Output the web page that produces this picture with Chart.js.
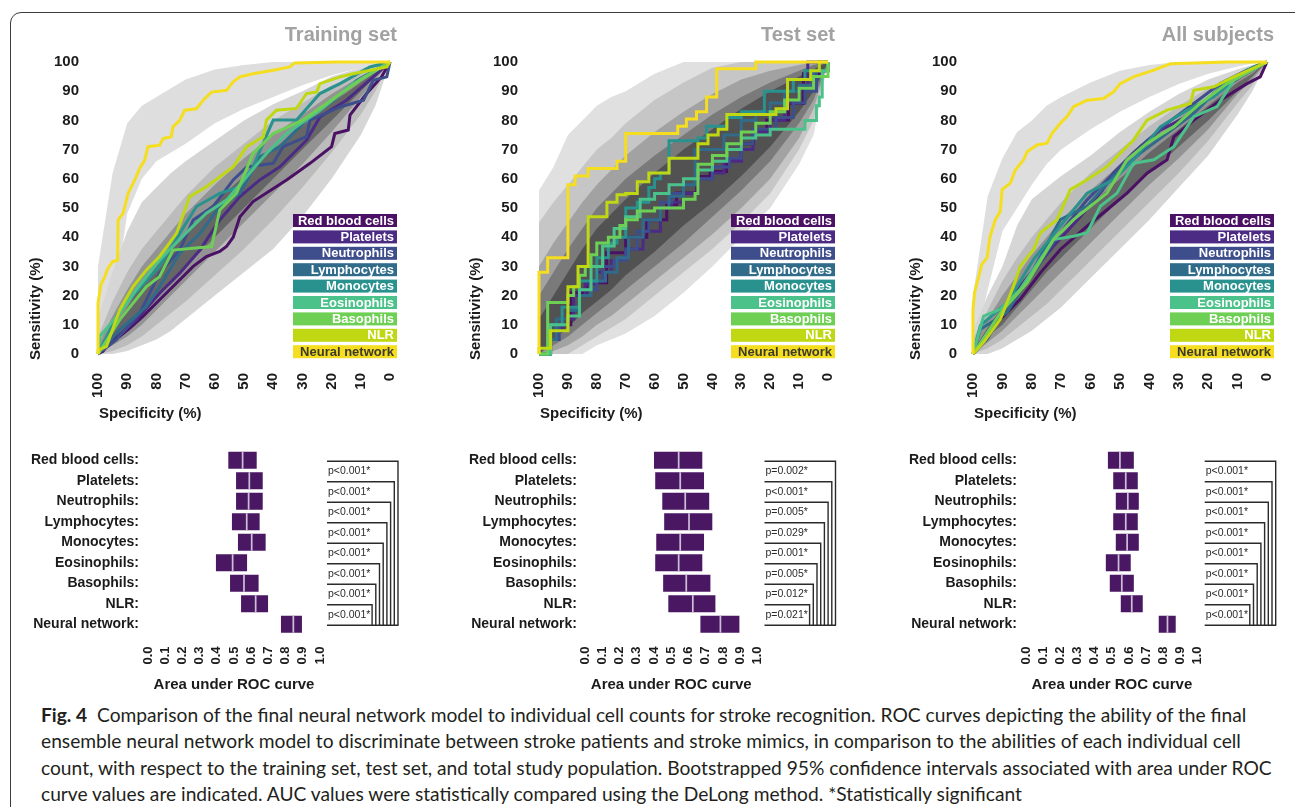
<!DOCTYPE html>
<html>
<head>
<meta charset="utf-8">
<script src="https://cdn.jsdelivr.net/npm/chart.js@4.4.3/dist/chart.umd.min.js"></script>
<style>
  html, body { margin: 0; padding: 0; background: #fff; }
  body { position: relative; width: 1295px; height: 807px; overflow: hidden; }
  .frame { position: absolute; left: 10px; top: 12px; width: 1320px; height: 830px; border: 1.5px solid #3c3c3c; border-radius: 11px; }
  canvas { position: absolute; }
  .caption { position: absolute; left: 41px; top: 702px; font-family: Lato, sans-serif; font-size: 19.2px; line-height: 26.3px; color: #231f20; white-space: nowrap; }
</style>
</head>
<body>
<div class="frame"></div>
<canvas id="rocTrain" width="380" height="403" style="left:20px;top:20px"></canvas>
<canvas id="rocTest" width="378" height="403" style="left:460px;top:20px"></canvas>
<canvas id="rocAll" width="377" height="403" style="left:900px;top:20px"></canvas>
<canvas id="aucTrain" width="385" height="254" style="left:20px;top:440px"></canvas>
<canvas id="aucTest" width="385" height="254" style="left:460px;top:440px"></canvas>
<canvas id="aucAll" width="385" height="254" style="left:900px;top:440px"></canvas>
<div class="caption"><b>Fig. 4</b>&nbsp; Comparison of the final neural network model to individual cell counts for stroke recognition. ROC curves depicting the ability of the final<br>ensemble neural network model to discriminate between stroke patients and stroke mimics, in comparison to the abilities of each individual cell<br>count, with respect to the training set, test set, and total study population. Bootstrapped 95% confidence intervals associated with area under ROC<br>curve values are indicated. AUC values were statistically compared using the DeLong method. *Statistically significant</div>

<script>
// series names and colours (viridis-like)
const categories = ['Red blood cells', 'Platelets', 'Neutrophils', 'Lymphocytes', 'Monocytes', 'Eosinophils', 'Basophils', 'NLR', 'Neural network'];
const seriesColors = ['#4a1164', '#4b2b84', '#3e4d8b', '#306b8a', '#29928e', '#4cc28b', '#6ecf55', '#c0d814', '#f5dd1f'];

// ROC curves: [specificity, sensitivity]
const trainRBC = [[100,0],[98.3,0.9],[94.9,5.5],[92.6,6],[89.1,8.9],[84.6,12.9],[78.9,18.6],[73.1,24.3],[67.4,30],[62.9,33.4],[58.3,35.1],[56,36.8],[53.7,40],[51.4,47],[46.9,52.2],[35.4,59.6],[27.4,65.3],[20,71],[18.9,75.5],[14.3,76.7],[13.7,81.8],[8,89.2],[2.9,94.9],[0,100]];
const trainPLT = [[100,0],[97,2.6],[86.9,11.7],[78.9,20.8],[72,27.7],[65.1,35.6],[58.3,45.9],[51.4,53.9],[44.6,59.6],[37.7,64.1],[28.6,73.2],[24,81.2],[14.9,86.9],[5.7,94.9],[0,100]];
const trainNEU = [[100,0],[93.7,4.9],[85.7,14],[78.9,27.7],[72,35.6],[67.4,45.9],[60.6,50.5],[53.7,59.6],[49.1,64],[40,65.3],[36.6,71],[28.6,74.4],[27.4,80.1],[17.1,84.6],[9.1,86.9],[5.7,93.7],[1.1,94.9],[0,100]];
const trainLYM = [[100,0],[92.6,8.3],[83.4,16.3],[78.9,23.1],[72,34.5],[65.1,41.3],[58.3,50.5],[51.4,55],[44.6,67.5],[37.7,71],[28.6,80.1],[19.4,86.9],[11.4,93.7],[0,100]];
const trainMON = [[100,0],[96,8],[92.6,15],[78.9,30],[72,41.3],[66.3,50.5],[58.3,55],[51.4,57.3],[46.9,64.1],[40,80.1],[32,80.1],[24,89.2],[17.1,92.6],[6.9,98.3],[0,100]];
const trainEOS = [[100,0],[99.4,6],[92.6,14],[86.9,22],[78.9,32.2],[70,41.3],[62.9,48.2],[56,52.7],[49.1,60.7],[42.3,68.7],[35.4,75.5],[24,83.5],[12.6,92.6],[0,100]];
const trainBAS = [[100,0],[92.6,11.7],[83.4,23.1],[78.9,26.5],[74.3,35.6],[61.1,36.8],[58.3,49.3],[52.6,55],[46.9,68.7],[40,75.5],[30,80],[20,87],[10,94],[0,100]];
const trainNLR = [[100,0],[99.4,1.5],[97.1,2.6],[92.6,15.1],[88,23.1],[83.4,28.8],[78.9,33.4],[73.1,41.3],[68.6,53.9],[62.9,57.3],[58.3,60.7],[53.7,64.1],[49.1,71],[43.4,74.4],[42.3,80.1],[38.9,83.5],[32,84.1],[28.6,89.2],[25.1,89.7],[24,92.6],[17.1,94.9],[12.6,96],[1.1,98.3],[0,100]];
const trainNN = [[100,0],[100,17.4],[99,23.7],[97.7,26.5],[96.6,29.4],[94.9,31.7],[93.3,32],[93.1,45.9],[91.4,48.2],[89.7,55],[87.4,59.6],[85.7,63.6],[84,66.4],[82.9,71],[78.9,71.5],[77.7,73.8],[74.9,74.4],[74.3,77.8],[72,80],[70.3,83.5],[66.3,84],[64,86.9],[61.1,89.7],[56,90.3],[53.7,93.2],[51.4,94.9],[46.9,96],[40,97.2],[34.3,98.3],[32.6,99.7],[18.3,100],[0,100]];

const testRBC = [[100,0],[96,10],[89,21],[83.5,24.4],[76.6,34.7],[70,40],[62.7,46],[55.8,51.1],[52.4,55.1],[45.4,60.8],[40.8,62.5],[35.1,66.5],[30,72],[25.8,76.7],[21.2,80.1],[14,80.1],[13.7,85.8],[8.5,96],[3,100],[0,100]];
const testPLT = [[100,0],[97,8],[92,12],[88,20],[84,24],[80,28],[75,32],[70,36],[64,42],[58,50],[54,52],[50,55],[45,60],[40,62],[36,66],[30,70],[26,76],[20,80],[15,86],[10,92],[7,100],[0,100]];
const testNEU = [[100,0],[96,5],[93,10],[90,15],[86,22],[80,25],[78,30],[74,32],[70,36],[66,42],[62,46],[58,52],[54,55],[50,58],[45,60],[40,64],[34,67],[30,72],[26,77],[18,81],[12,86],[8,90],[4,97],[0,100]];
const testLYM = [[100,0],[97,5],[94,12],[90,15],[86,20],[82,25],[77,28],[73,33],[69,40],[64,46],[58,50],[55,54],[50,58],[46,70],[40,70],[36,75],[30,80],[25,83],[20,86],[15,90],[10,92],[5,97],[0,100]];
const testMON = [[100,0],[96,10],[92,16],[86,25],[80,33],[76,38],[73,40],[70,50],[66,52],[62,57],[60,60],[58,62],[55,73],[45,74],[42,78],[35,81],[30,83],[22,90],[15,90],[12,94],[8,97],[3,100],[0,100]];
const testEOS = [[100,0],[96,10],[90,13],[86,22],[82,30],[78,37],[74,43],[70,47],[65,53],[60,55],[55,58],[50,60],[45,63],[40,66],[35,70],[30,74],[25,75],[20,77],[13,77],[8,80],[4,85],[3,88],[2,97],[0,100]];
const testBAS = [[100,0],[97,17.6],[90,20],[88,23],[86,27],[84,30],[82,34],[80,38],[76,40],[72,44],[70,46],[66,49],[60,50],[52,50],[50,53],[46,55],[45,65],[40,68],[35,72],[30,76],[25,79],[20,83],[15,87],[10,91],[5,95],[0,100]];
const testNLR = [[100,0],[100,2],[96,8],[90,23],[86.5,30],[83,47],[76.5,52],[73,54.5],[70,55],[66,59],[62,62],[55,67],[45,72],[41.5,75],[38,77],[35,82],[18,84],[14,94],[6,97],[3,100],[0,100]];
const testNN = [[100,0],[100,28],[97,33],[90,58],[87.5,61],[83,63.5],[73,66],[70,75.5],[52,78],[49,80.5],[45.5,83],[42,88],[38.5,97.7],[25,100],[0,100]];

const allRBC = [[100,0],[90.7,11.9],[83.9,18.8],[77.1,27.8],[70.3,35.8],[61.2,43.8],[54.4,49.4],[47.6,55.1],[40.8,61.9],[34,66.5],[31.7,74.4],[24.9,80.1],[15.9,86.9],[6.8,92.6],[2.3,94.9],[0,100]];
const allPLT = [[100,0],[90.7,14],[81.6,26],[72.6,37],[63.5,47],[56,56],[52.2,62],[45.4,69],[36.3,76.7],[27.2,81.3],[18.1,89.2],[9.1,94.9],[0,100]];
const allNEU = [[100,0],[95.2,5.1],[88.4,16.5],[79.4,27.8],[70.3,41.5],[61.2,52.8],[52.2,61.9],[43.1,71],[34,79],[24.9,85.8],[15.9,92.6],[6.8,97.2],[0,100]];
const allLYM = [[100,0],[97.5,8.5],[88.4,14.2],[79.4,29],[70.3,46],[61.2,50.6],[52.2,60.8],[43.1,68.8],[34,75.6],[24.9,82.4],[15.9,91.5],[4.5,98.3],[0,100]];
const allMON = [[100,0],[97.5,9.7],[88.4,17.6],[79.4,32.4],[70.3,43.8],[61.2,55.1],[52.2,59.7],[45.4,66.5],[36.3,77.8],[27.2,83.5],[18.1,88.1],[6.8,97.2],[0,100]];
const allEOS = [[100,0],[96.4,13],[90.7,15.3],[83.9,22.2],[77.1,32.4],[72.6,39.2],[65.8,40.3],[61.2,41.5],[56.7,50.6],[51,55.1],[45.4,65.3],[38.5,66.5],[31.7,71],[24.9,81.3],[17,84.7],[11.3,93.8],[0,100]];
const allBAS = [[100,0],[90.7,14],[81.6,24.4],[72.6,39.2],[65.8,46],[60.1,50.6],[54.4,55.1],[47.6,66.5],[40.8,72.2],[31.7,77.8],[22.7,85.8],[13.6,92.6],[0,100]];
const allNLR = [[100,0],[96.4,4],[90.7,11.9],[86.2,23.3],[83.9,30.1],[79.4,35.8],[77.1,41.5],[71.4,46],[66.9,56.3],[61.2,59.7],[54.4,64.2],[49.9,68.8],[45.4,73.3],[40.8,80.1],[34,83.5],[26.1,85.8],[24.9,90.3],[18.1,91.5],[11.3,94.9],[0,100]];
const allNN = [[100,0],[100,15.3],[99.5,21],[98,26.7],[97,30.7],[95.2,33],[94.3,39.8],[92.4,46],[90.7,48.9],[90.1,56.3],[87.3,58.5],[85.6,63],[82.8,66.5],[81.6,69.3],[78.2,71.6],[74.8,72.2],[73.1,75.6],[70.3,79],[68,81.3],[65.8,84.7],[61.2,86.9],[55.6,87.5],[52.2,89.8],[49.9,92.6],[45.4,94.9],[38.5,97.2],[32.9,99.4],[13.6,100],[0,100]];

// confidence bands, sensitivity at these specificities
const bandSpec = [100, 95, 90, 85, 80, 75, 70, 60, 50, 40, 30, 20, 10, 5, 0];
const trainNnHi    = [30, 62, 79, 85, 88, 91, 94, 97.4, 99, 100, 100, 100, 100, 100, 100];
const trainNnLo    = [0, 14, 48, 60, 66, 69, 72, 79, 84, 88, 92, 95.5, 98, 99, 100];
const trainOuterHi = [12, 28, 42, 52, 57, 62, 66, 73, 80, 85.5, 90, 95, 98, 99, 100];
const trainOuterLo = [0, 0, 1, 3, 5, 8, 12, 20, 28, 36, 47, 60, 75, 85, 100];
const trainMidHi   = [6, 18, 28, 36, 42, 48, 54, 64, 72, 80, 86, 92, 96, 98, 100];
const trainMidLo   = [0, 1, 3, 6, 10, 14, 18, 27, 36, 46, 57, 69, 82, 90, 100];
const trainInnerHi = [3, 13, 22, 30, 36, 42, 48, 58, 67, 75, 82, 89, 95, 97.5, 100];
const trainInnerLo = [0, 3, 6, 10, 15, 20, 25, 35, 45, 55, 65, 76, 88, 94, 100];
const trainCoreHi  = [1, 9, 16, 24, 30, 36, 42, 52, 61, 70, 78, 86, 93, 96.5, 100];
const trainCoreLo  = [0, 5, 9, 14, 20, 25, 30, 40, 50, 60, 70, 80, 90, 95, 100];

const testL1Hi = [56, 64, 75, 80, 85, 88, 90, 96, 100, 100, 100, 100, 100, 100, 100];
const testL1Lo = [0, 0, 0, 0, 3, 5, 7, 13, 21, 30, 40, 50, 65, 75, 100];
const testL2Hi = [45, 52, 58, 64, 70, 74, 79, 87, 93, 98, 100, 100, 100, 100, 100];
const testL2Lo = [0, 0, 0, 3, 6, 9, 12, 20, 28, 36, 45, 55, 70, 80, 100];
const testL3Hi = [30, 38, 45, 52, 58, 63, 68, 76, 83, 89, 94, 97, 99, 100, 100];
const testL3Lo = [0, 1, 3, 6, 10, 13, 17, 25, 33, 41, 50, 60, 74, 84, 100];
const testL4Hi = [20, 28, 36, 43, 50, 55, 60, 68, 75, 82, 88, 93, 97, 99, 100];
const testL4Lo = [0, 3, 6, 10, 14, 18, 22, 30, 38, 47, 56, 66, 79, 87, 100];
const testL5Hi = [12, 20, 28, 36, 43, 48, 53, 62, 70, 77, 84, 90, 95, 97.5, 100];
const testL5Lo = [0, 5, 9, 14, 18, 22, 27, 35, 44, 52, 61, 71, 83, 90, 100];

const allNnHi    = [20, 54, 67, 76, 80, 85, 88, 93, 97, 99, 100, 100, 100, 100, 100];
const allNnLo    = [0, 22, 42, 50, 58, 65, 70, 77, 83, 88, 92.5, 96, 98.5, 99.5, 100];
const allOuterHi = [8, 20, 30, 44, 53, 57, 61, 68, 76, 83, 89, 94, 97.5, 99, 100];
const allOuterLo = [0, 0, 2, 5, 8, 12, 16, 26, 36, 46, 57, 68, 82, 90, 100];
const allMidHi   = [5, 15, 25, 33, 40, 46, 52, 62, 70, 78, 85, 91, 96, 98, 100];
const allMidLo   = [0, 2, 5, 9, 13, 17, 22, 32, 42, 52, 62, 73, 86, 92, 100];
const allInnerHi = [3, 12, 20, 27, 34, 40, 46, 56, 65, 73, 81, 88, 94, 97, 100];
const allInnerLo = [0, 4, 8, 13, 18, 23, 28, 38, 48, 58, 67, 77, 89, 94, 100];
const allCoreHi  = [1, 9, 16, 23, 29, 35, 41, 51, 60, 69, 77, 85, 93, 96, 100];
const allCoreLo  = [0, 6, 10, 16, 22, 28, 33, 43, 53, 62, 71, 80, 90, 95, 100];

// AUC with bootstrapped 95% CI
const aucTrainLo  = [0.467, 0.512, 0.512, 0.488, 0.523, 0.395, 0.477, 0.541, 0.773];
const aucTrainMid = [0.550, 0.589, 0.585, 0.574, 0.603, 0.492, 0.558, 0.626, 0.845];
const aucTrainHi  = [0.632, 0.667, 0.667, 0.649, 0.684, 0.576, 0.643, 0.698, 0.895];
const aucTestLo   = [0.400, 0.407, 0.448, 0.459, 0.413, 0.407, 0.453, 0.483, 0.669];
const aucTestMid  = [0.543, 0.552, 0.581, 0.603, 0.552, 0.543, 0.587, 0.625, 0.785];
const aucTestHi   = [0.680, 0.690, 0.720, 0.738, 0.690, 0.680, 0.727, 0.756, 0.895];
const aucAllLo    = [0.477, 0.508, 0.523, 0.508, 0.523, 0.465, 0.488, 0.552, 0.773];
const aucAllMid   = [0.547, 0.581, 0.593, 0.581, 0.589, 0.539, 0.558, 0.616, 0.824];
const aucAllHi    = [0.628, 0.651, 0.657, 0.651, 0.657, 0.610, 0.628, 0.680, 0.872];

const pTrain = ['p<0.001*', 'p<0.001*', 'p<0.001*', 'p<0.001*', 'p<0.001*', 'p<0.001*', 'p<0.001*', 'p<0.001*'];
const pTest  = ['p=0.002*', 'p<0.001*', 'p=0.005*', 'p=0.029*', 'p=0.001*', 'p=0.005*', 'p=0.012*', 'p=0.021*'];
const pAll   = ['p<0.001*', 'p<0.001*', 'p<0.001*', 'p<0.001*', 'p<0.001*', 'p<0.001*', 'p<0.001*', 'p<0.001*'];

const FONT = "'Liberation Sans', Arial, sans-serif";
Chart.defaults.font.family = FONT;
Chart.defaults.color = '#1b1b1b';

const toPts = arr => arr.map(([x, y]) => ({x, y}));

// panel title, axis titles and the coloured legend boxes
function rocText(title) {
  return {
    id: 'rocText',
    afterDraw(chart) {
      const {ctx, chartArea: a} = chart;
      ctx.save();
      ctx.textBaseline = 'middle';
      ctx.font = 'bold 20px ' + FONT;
      ctx.fillStyle = '#a2a2a2';
      ctx.textAlign = 'right';
      ctx.fillText(title, a.right + 7, a.top - 27);

      ctx.font = 'bold 15px ' + FONT;
      ctx.fillStyle = '#1b1b1b';
      ctx.textAlign = 'left';
      ctx.fillText('Specificity (%)', a.left + 1, a.bottom + 60);
      ctx.save();
      ctx.translate(16, a.bottom + 6);
      ctx.rotate(-Math.PI / 2);
      ctx.fillText('Sensitivity (%)', 0, 0);
      ctx.restore();

      const bx = a.right + 7 - 104;
      ctx.font = 'bold 13px ' + FONT;
      ctx.textAlign = 'right';
      categories.forEach((name, i) => {
        const by = a.top + 152 + i * 16.4;
        ctx.fillStyle = seriesColors[i];
        ctx.fillRect(bx, by, 104, 13);
        ctx.fillStyle = i === 8 ? '#3b3a2c' : '#ffffff';
        ctx.fillText(name, bx + 101, by + 7);
      });
      ctx.restore();
    }
  };
}

function makeRoc(id, o) {
  const datasets = [];
  o.bands.forEach(([hi, lo], k) => {
    datasets.push({data: bandSpec.map((x, j) => ({x, y: hi[j]})), fill: '+1', backgroundColor: o.bandColors[k],
                   borderWidth: 0, pointRadius: 0, order: 100 - k});
    datasets.push({data: bandSpec.map((x, j) => ({x, y: lo[j]})), fill: false,
                   borderWidth: 0, pointRadius: 0, order: 100 - k});
  });
  o.curves.forEach((c, i) => {
    datasets.push({label: categories[i], data: toPts(c), borderColor: seriesColors[i], borderWidth: 3,
                   pointRadius: 0, fill: false, tension: 0, stepped: o.stepped ? 'before' : false,
                   clip: 6, order: 10 - i});
  });

  new Chart(document.getElementById(id), {
    type: 'line',
    data: {datasets},
    options: {
      responsive: false,
      animation: false,
      events: [],
      layout: {padding: {top: 42, right: 10, left: 0, bottom: 0}},
      plugins: {legend: {display: false}, tooltip: {enabled: false}},
      scales: {
        x: {
          type: 'linear', min: 0, max: 100, reverse: true,
          grid: {display: false, drawTicks: false}, border: {display: false},
          ticks: {stepSize: 10, minRotation: 90, maxRotation: 90, padding: 19, color: '#1b1b1b',
                  autoSkip: false, font: {size: 15, weight: 'bold'}},
          afterFit: s => { s.height = 69; s.paddingLeft = 0; s.paddingRight = 0; }
        },
        y: {
          min: 0, max: 100,
          grid: {display: false, drawTicks: false}, border: {display: false},
          ticks: {stepSize: 10, padding: o.yPad, color: '#1b1b1b', autoSkip: false, font: {size: 15, weight: 'bold'}},
          afterFit: s => { s.width = o.yWidth; s.paddingTop = 0; s.paddingBottom = 0; }
        }
      }
    },
    plugins: [rocText(o.title)]
  });
}

// DeLong comparison brackets on the right of the AUC plot
function brackets(pvals) {
  return {
    id: 'brackets',
    afterDraw(chart) {
      const {ctx, chartArea: a, scales: {y}} = chart;
      const x0 = a.right + 7;
      const yEnd = y.getPixelForValue(pvals.length) + 1;
      const step = y.getPixelForValue(1) - y.getPixelForValue(0);
      ctx.save();
      ctx.strokeStyle = '#2b2b2b';
      ctx.lineWidth = 1.4;
      ctx.beginPath();
      ctx.moveTo(x0, yEnd);
      ctx.lineTo(x0 + 71.5, yEnd);
      ctx.stroke();
      ctx.font = '10.5px ' + FONT;
      ctx.fillStyle = '#2b2b2b';
      ctx.textAlign = 'left';
      ctx.textBaseline = 'middle';
      pvals.forEach((p, i) => {
        const yy = y.getPixelForValue(i) + 1;
        const x1 = x0 + 71 - 3.7 * i;
        ctx.beginPath();
        ctx.moveTo(x0, yy);
        ctx.lineTo(x1, yy);
        ctx.lineTo(x1, yEnd);
        ctx.stroke();
        ctx.fillText(p, x0 + 1, yy + step / 2);
      });
      ctx.restore();
    }
  };
}

function makeAuc(id, o) {
  new Chart(document.getElementById(id), {
    type: 'bar',
    data: {
      labels: categories,
      datasets: [
        {data: o.mid.map(m => [m - 0.005, m + 0.005]), backgroundColor: '#cdbfd8', grouped: false,
         barPercentage: 0.84, categoryPercentage: 1, order: 0},
        {data: o.lo.map((l, i) => [l, o.hi[i]]), backgroundColor: '#4a1762', grouped: false,
         barPercentage: 0.84, categoryPercentage: 1, order: 1}
      ]
    },
    options: {
      indexAxis: 'y',
      responsive: false,
      animation: false,
      events: [],
      layout: {padding: {top: 10, right: o.right, left: 0, bottom: 0}},
      plugins: {legend: {display: false}, tooltip: {enabled: false}},
      scales: {
        x: {
          min: 0, max: 1,
          grid: {display: false, drawTicks: false}, border: {display: false},
          ticks: {stepSize: 0.1, minRotation: 90, maxRotation: 90, padding: 12, color: '#1b1b1b', autoSkip: false,
                  font: {size: 13, weight: 'bold'}, callback: v => Number(v).toFixed(1)},
          title: {display: true, text: 'Area under ROC curve', color: '#1b1b1b', padding: 0,
                  font: {size: 15, weight: 'bold'}},
          afterFit: s => { s.height = 59.5; s.paddingLeft = 0; s.paddingRight = 0; }
        },
        y: {
          grid: {display: false, drawTicks: false}, border: {display: false},
          ticks: {padding: o.yPad, color: '#1b1b1b', autoSkip: false, font: {size: 14, weight: 'bold'},
                  callback: (v, i) => categories[i] + ':'},
          afterFit: s => { s.width = o.yWidth; s.paddingTop = 0; s.paddingBottom = 0; }
        }
      }
    },
    plugins: [brackets(o.pvals)]
  });
}

const lightGreys = ['#dedede', '#d6d6d6', '#bcbcbc', '#939393', '#666666'];
const testGreys = ['#e0e0e0', '#c6c6c6', '#a2a2a2', '#7a7a7a', '#525252'];

makeRoc('rocTrain', {
  title: 'Training set', yWidth: 78, yPad: 19, stepped: false, bandColors: lightGreys,
  bands: [[trainNnHi, trainNnLo], [trainOuterHi, trainOuterLo], [trainMidHi, trainMidLo], [trainInnerHi, trainInnerLo], [trainCoreHi, trainCoreLo]],
  curves: [trainRBC, trainPLT, trainNEU, trainLYM, trainMON, trainEOS, trainBAS, trainNLR, trainNN]
});
makeRoc('rocTest', {
  title: 'Test set', yWidth: 79, yPad: 21, stepped: true, bandColors: testGreys,
  bands: [[testL1Hi, testL1Lo], [testL2Hi, testL2Lo], [testL3Hi, testL3Lo], [testL4Hi, testL4Lo], [testL5Hi, testL5Lo]],
  curves: [testRBC, testPLT, testNEU, testLYM, testMON, testEOS, testBAS, testNLR, testNN]
});
makeRoc('rocAll', {
  title: 'All subjects', yWidth: 73, yPad: 16, stepped: false, bandColors: lightGreys,
  bands: [[allNnHi, allNnLo], [allOuterHi, allOuterLo], [allMidHi, allMidLo], [allInnerHi, allInnerLo], [allCoreHi, allCoreLo]],
  curves: [allRBC, allPLT, allNEU, allLYM, allMON, allEOS, allBAS, allNLR, allNN]
});

makeAuc('aucTrain', {lo: aucTrainLo, mid: aucTrainMid, hi: aucTrainHi, pvals: pTrain, yWidth: 128, yPad: 9, right: 85});
makeAuc('aucTest', {lo: aucTestLo, mid: aucTestMid, hi: aucTestHi, pvals: pTest, yWidth: 125, yPad: 8, right: 87.5});
makeAuc('aucAll', {lo: aucAllLo, mid: aucAllMid, hi: aucAllHi, pvals: pAll, yWidth: 126, yPad: 9, right: 87.3});
</script>
</body>
</html>
